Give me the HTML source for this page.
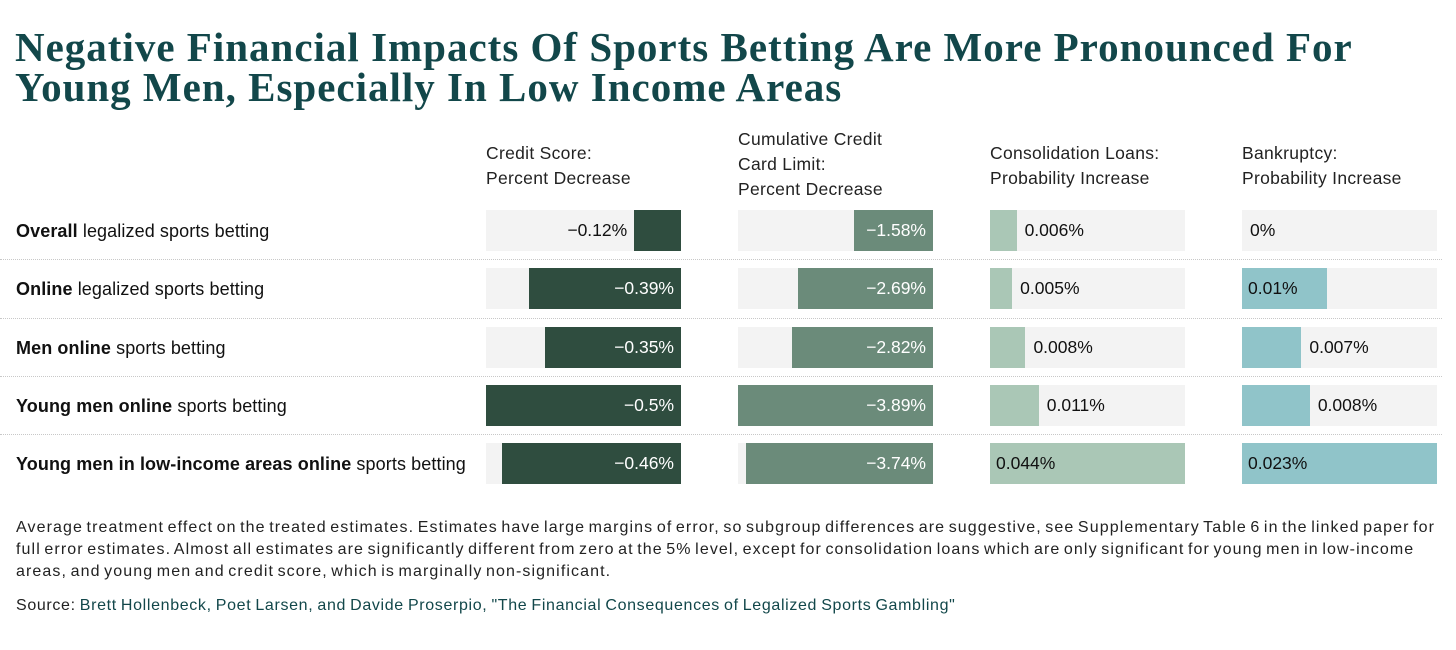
<!DOCTYPE html>
<html><head><meta charset="utf-8"><style>
body{margin:0;width:1456px;height:650px;background:#fff;font-family:"Liberation Sans",sans-serif;color:#111;position:relative;overflow:hidden}
.title{position:absolute;left:15px;top:27px;font-family:"Liberation Serif",serif;font-weight:bold;font-size:41px;line-height:40px;color:#12474a;letter-spacing:1.0px;white-space:nowrap}
.hdr{position:absolute;font-size:17.5px;line-height:25px;color:#222;letter-spacing:0.3px}
.lbl{position:absolute;left:16px;font-size:18px;color:#111;letter-spacing:0.1px}
.bg{position:absolute;background:#f3f3f3;height:41px}
.bar{position:absolute;height:41px;box-sizing:border-box}
.val{position:absolute;font-size:17.5px;line-height:41px;white-space:nowrap}
.sep{position:absolute;left:0;width:1442px;border-top:1px dotted #c8c8c8}
.note{position:absolute;left:16px;top:517px;font-size:16px;line-height:22px;color:#222;letter-spacing:1.1px;word-spacing:-2px;white-space:nowrap}
.src{position:absolute;left:16px;top:597px;font-size:16px;color:#222;letter-spacing:0.65px;word-spacing:-1px;white-space:nowrap}
.src span{color:#12474a}
</style></head><body>
<div class="title">Negative Financial Impacts Of Sports Betting Are More Pronounced For<br>Young Men, Especially In Low Income Areas</div>
<div class="hdr" style="left:486px;top:141px">Credit Score:<br>Percent Decrease</div>
<div class="hdr" style="left:738px;top:127px">Cumulative Credit<br>Card Limit:<br>Percent Decrease</div>
<div class="hdr" style="left:990px;top:141px">Consolidation Loans:<br>Probability Increase</div>
<div class="hdr" style="left:1242px;top:141px">Bankruptcy:<br>Probability Increase</div>
<div id="chart"></div>
<div class="note">Average treatment effect on the treated estimates. Estimates have large margins of error, so subgroup differences are suggestive, see Supplementary Table 6 in the linked paper for<br>full error estimates. Almost all estimates are significantly different from zero at the 5% level, except for consolidation loans which are only significant for young men in low-income<br>areas, and young men and credit score, which is marginally non-significant.</div>
<div class="src">Source: <span>Brett Hollenbeck, Poet Larsen, and Davide Proserpio, "The Financial Consequences of Legalized Sports Gambling"</span></div>
<script>
const categoriesBold=["Overall","Online","Men online","Young men online","Young men in low-income areas online"];
const categoriesRest=[" legalized sports betting"," legalized sports betting"," sports betting"," sports betting"," sports betting"];
const creditScore=[-0.12,-0.39,-0.35,-0.5,-0.46];
const creditLimit=[-1.58,-2.69,-2.82,-3.89,-3.74];
const consolidation=[0.006,0.005,0.008,0.011,0.044];
const bankruptcy=[0,0.01,0.007,0.008,0.023];
const creditScoreLabels=["−0.12%","−0.39%","−0.35%","−0.5%","−0.46%"];
const creditLimitLabels=["−1.58%","−2.69%","−2.82%","−3.89%","−3.74%"];
const consolidationLabels=["0.006%","0.005%","0.008%","0.011%","0.044%"];
const bankruptcyLabels=["0%","0.01%","0.007%","0.008%","0.023%"];
const cols=[
 {vals:creditScore,labs:creditScoreLabels,x:486,color:"#2f4d3f",neg:true,name:"credit-score"},
 {vals:creditLimit,labs:creditLimitLabels,x:738,color:"#6b8b7a",neg:true,name:"credit-limit"},
 {vals:consolidation,labs:consolidationLabels,x:990,color:"#aac7b6",neg:false,name:"consolidation"},
 {vals:bankruptcy,labs:bankruptcyLabels,x:1242,color:"#90c4c9",neg:false,name:"bankruptcy"}];
const W=195, rowTop=210, rowH=58.3;
const c=document.getElementById('chart');
function mk(cls,css){const d=document.createElement('div');d.className=cls;Object.assign(d.style,css);c.appendChild(d);return d;}
categoriesBold.forEach((b,i)=>{
 const y=rowTop+i*rowH;
 const l=mk('lbl',{top:(y+11)+'px'});
 
 
 l.innerHTML='<b>'+b+'</b>'+categoriesRest[i];
 if(i>0){const s=mk('sep',{top:(y-9)+'px'});
 
 }
 cols.forEach(col=>{
  const maxv=Math.max(...col.vals.map(Math.abs));
  const w=Math.abs(col.vals[i])/maxv*W;
  const g=mk('bg',{left:col.x+'px',top:y+'px',width:W+'px'});
  
  
  const bx=col.neg?col.x+W-w:col.x;
  const bar=mk('bar',{left:bx+'px',top:y+'px',width:w+'px',background:col.color});
  
  
  const v=mk('val',{top:y+'px'});
  
  
  v.textContent=col.labs[i];
  const inside=w>75;
  const white=inside&&col.neg;
  v.style.color=white?'#fff':'#111';
  if(col.neg){
   const right=inside?(1456-(col.x+W)+7):(1456-bx+7);
   v.style.right=right+'px';
  }else{
   v.style.left=(inside?col.x+6:col.x+w+8)+'px';
  }
 });
});
</script>
</body></html>
